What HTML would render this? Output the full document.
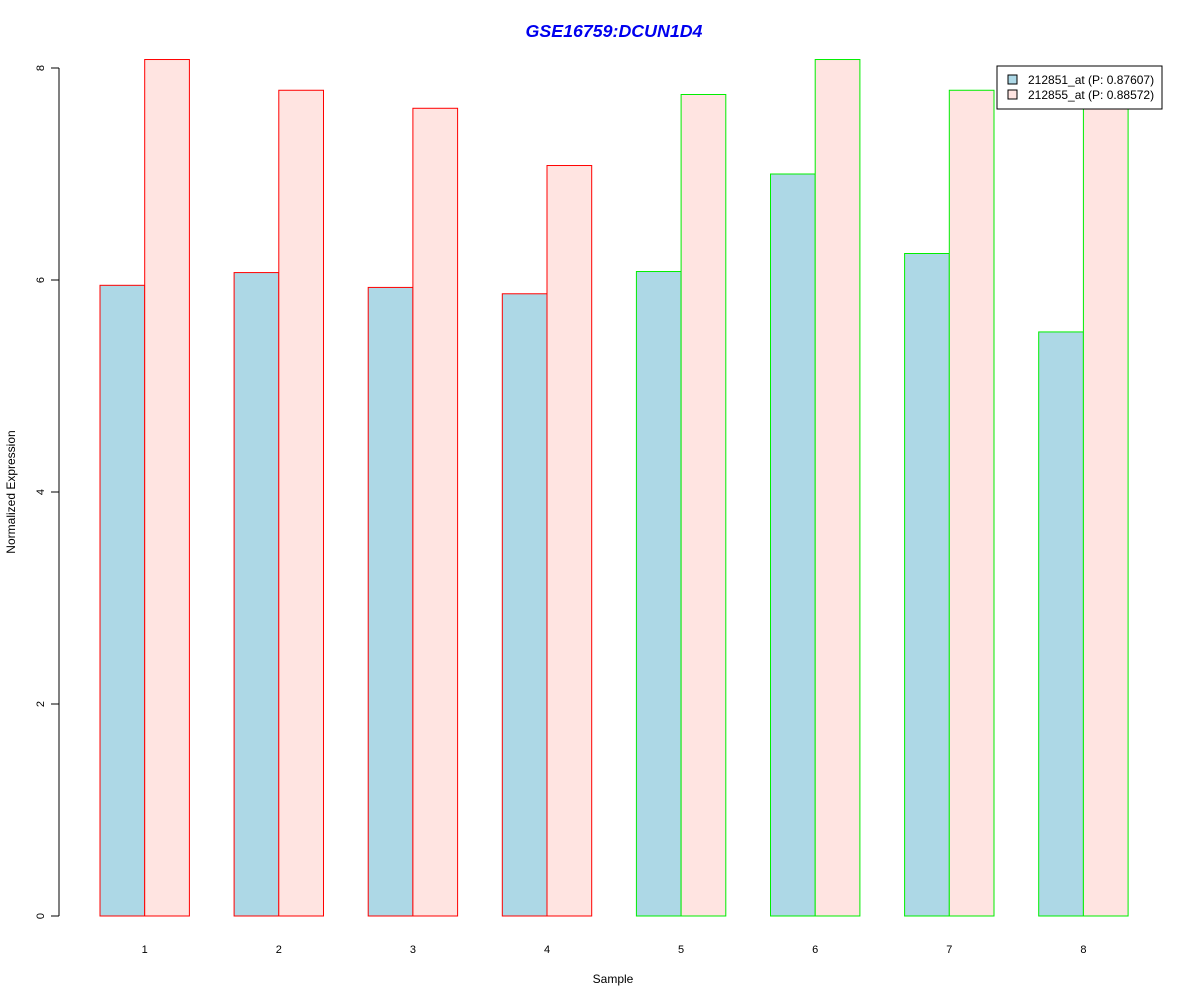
<!DOCTYPE html>
<html><head><meta charset="utf-8"><style>
body{margin:0;background:#fff}
svg{font-family:"Liberation Sans",Arial,sans-serif}
</style></head><body>
<svg id="chart" width="1200" height="1000" xmlns="http://www.w3.org/2000/svg">
<rect width="1200" height="1000" fill="#fff"/>
<text x="614" y="37" text-anchor="middle" font-size="17.8" font-weight="bold" font-style="italic" fill="#0000ee">GSE16759:DCUN1D4</text>
<text x="613" y="983" text-anchor="middle" font-size="12">Sample</text>
<text transform="translate(15,492) rotate(-90)" text-anchor="middle" font-size="12">Normalized Expression</text>
<g id="bars"></g>
<g id="axis"></g>
<g>
<rect x="997" y="66" width="165" height="43" fill="#fff" stroke="#000"/>
<rect x="1008" y="75" width="9" height="9" fill="#add8e6" stroke="#000"/>
<text x="1028" y="84" font-size="12">212851_at (P: 0.87607)</text>
<rect x="1008" y="90" width="9" height="9" fill="#ffe4e1" stroke="#000"/>
<text x="1028" y="99" font-size="12">212855_at (P: 0.88572)</text>
</g>
</svg>
<script>
const categories=["1","2","3","4","5","6","7","8"];
const series1=[5.95,6.07,5.93,5.87,6.08,7.0,6.25,5.51];
const series2=[8.08,7.79,7.62,7.08,7.75,8.08,7.79,7.95];
const groupColors=["#ff0000","#ff0000","#ff0000","#ff0000","#00ee00","#00ee00","#00ee00","#00ee00"];
const yTicks=[0,2,4,6,8];
const NS="http://www.w3.org/2000/svg";
function y(v){return 916-v*106;}
function xg(i){return 100+i*134.1;}
const bars=document.getElementById('bars');
const axis=document.getElementById('axis');
function mk(tag,attrs,parent){const e=document.createElementNS(NS,tag);for(const k in attrs)e.setAttribute(k,attrs[k]);parent.appendChild(e);return e;}
categories.forEach((c,i)=>{
  const x0=xg(i);
  const b1=mk('rect',{x:x0,y:y(series1[i]),width:44.7,height:y(0)-y(series1[i]),fill:'#add8e6',stroke:groupColors[i]},bars);
  
  
  const b2=mk('rect',{x:x0+44.7,y:y(series2[i]),width:44.7,height:y(0)-y(series2[i]),fill:'#ffe4e1',stroke:groupColors[i]},bars);
  
  
  const t=mk('text',{x:x0+44.7,y:953,'text-anchor':'middle','font-size':11},axis);
  t.textContent=c;
  
  
});
const al=mk('line',{x1:59,x2:59,y1:y(0),y2:y(8),stroke:'#000'},axis);


yTicks.forEach(v=>{
  const tk=mk('line',{x1:51,x2:59,y1:y(v),y2:y(v),stroke:'#000'},axis);
  
  
  const t=mk('text',{transform:`translate(44,${y(v)}) rotate(-90)`,'text-anchor':'middle','font-size':11},axis);
  t.textContent=v;
  
  
});
</script>
</body></html>
